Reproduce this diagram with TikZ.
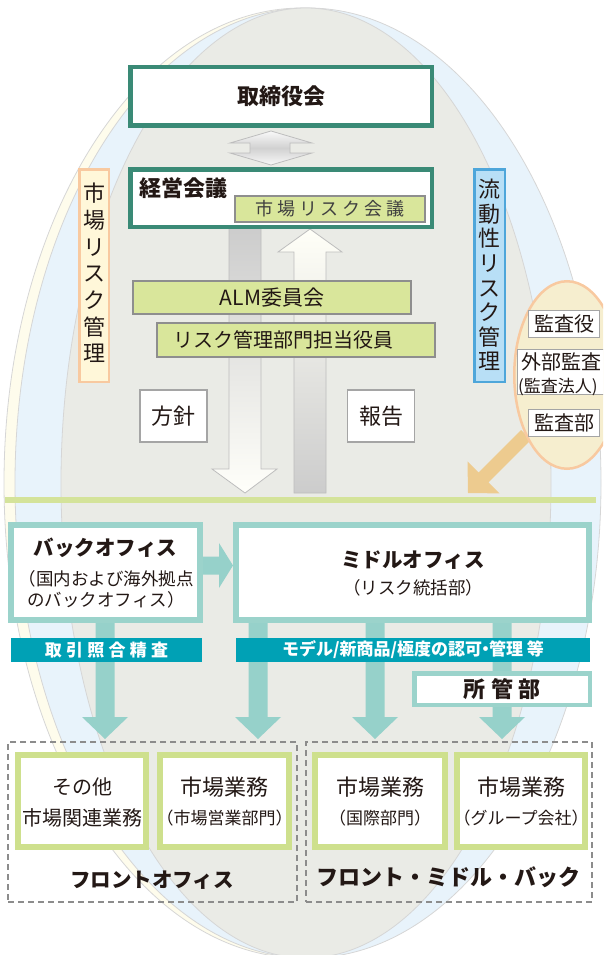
\documentclass[tikz,border=0pt]{standalone}
\usepackage{fontspec}
\setmainfont{Noto Sans CJK JP}
\usetikzlibrary{shapes.geometric}
\definecolor{board}{HTML}{3A8A76}
\definecolor{ink}{HTML}{231815}
\definecolor{lime}{HTML}{D9E69B}
\definecolor{limeline}{HTML}{D4E39A}
\definecolor{limeborder}{HTML}{8E8E8E}
\definecolor{boxgray}{HTML}{A5A5A5}
\definecolor{tealbd}{HTML}{9BD3CB}
\definecolor{tealarr}{HTML}{96D1CA}
\definecolor{barblue}{HTML}{00A1B5}
\definecolor{frontgreen}{HTML}{CEE08D}
\definecolor{ellgray}{HTML}{EAEBE6}
\definecolor{ellyel}{HTML}{FEFCEC}
\definecolor{ellblue}{HTML}{E8F3FB}
\definecolor{ellline}{HTML}{D6D6D6}
\definecolor{peach}{HTML}{F8C9A0}
\definecolor{auditfill}{HTML}{F6EECF}
\definecolor{liqfill}{HTML}{B8DFF6}
\definecolor{liqline}{HTML}{4EA6DA}
\definecolor{mktfill}{HTML}{FFF7D9}
\definecolor{orangearr}{HTML}{EDCB8F}
\definecolor{arrline}{HTML}{BDBDBD}
\definecolor{dashgray}{HTML}{8C8C8C}
\newcommand\jfs[2]{\fontsize{#1pt}{#2pt}\selectfont}
\newcommand\tealdown[1]{\fill[tealarr] ({#1-9.5},623) -- ({#1+9.5},623) -- ({#1+9.5},717) -- ({#1+23},717) -- (#1,739) -- ({#1-23},717) -- ({#1-9.5},717) -- cycle;}
\begin{document}
\begin{tikzpicture}[x=1pt,y=-1pt,
  every node/.style={inner sep=0pt, outer sep=0pt, text=ink},
  boardbox/.style={draw=board, line width=4.5pt, fill=white},
  limebox/.style={draw=limeborder, line width=1.1pt, fill=lime},
  whitebox/.style={draw=boxgray, line width=1.2pt, fill=white},
  tealbox/.style={draw=tealbd, line width=6pt, fill=white},
  frontbox/.style={draw=frontgreen, line width=6pt, fill=white},
  barbox/.style={fill=barblue, text=white},
  dashbox/.style={draw=dashgray, line width=1.1pt, dash pattern=on 6pt off 4pt},
  blockarrow/.style={draw=arrline, line width=0.8pt}]
\useasboundingbox (0,0) rectangle (603,955);
\clip (0,0) rectangle (603,955);
% background ellipses
\draw[ellline, line width=0.8pt, fill=ellyel] (302,483) ellipse [x radius=298pt, y radius=475pt];
\draw[ellline, line width=0.8pt, fill=ellblue] (308,483) ellipse [x radius=293pt, y radius=475pt];
\draw[ellline, line width=0.8pt, fill=ellgray] (306,483) ellipse [x radius=245pt, y radius=475pt];
% separator line
\draw[limeline, line width=5.5pt] (5,500) -- (596,500);
% board
\node[boardbox, minimum width=301.5pt, minimum height=58.5pt, font=\bfseries\jfs{22}{26}] (board) at (281,96.5) {取締役会};
% double arrow
\draw[blockarrow, top color=white!95!gray, bottom color=white!95!gray, middle color=black!18] (271,131) -- (312,143) -- (290,143) -- (290,153) -- (312,153) -- (271,165) -- (230,153) -- (250,153) -- (250,143) -- (230,143) -- cycle;
% policy / report arrows
\draw[blockarrow, top color=black!20, bottom color=white!98!yellow] (229,226) -- (261,226) -- (261,469) -- (277,469) -- (245,493) -- (212,469) -- (229,469) -- cycle;
\draw[blockarrow, top color=white!97!yellow, bottom color=black!20] (294,493) -- (326,493) -- (326,252) -- (342,252) -- (310,229) -- (278,252) -- (294,252) -- cycle;
% management meeting
\node[boardbox, minimum width=301.5pt, minimum height=57.5pt] (mgmt) at (281,198) {};
\node[font=\bfseries\jfs{22}{26}, anchor=west] (mgmtlabel) at (139,188) {経営会議};
\node[limebox, minimum width=190pt, minimum height=26pt, font=\jfs{18}{20}\addfontfeature{LetterSpace=22}, text=black!75] (mrc) at (330,209) {市場リスク会議};
\node[limebox, minimum width=278pt, minimum height=33pt, font=\jfs{21}{24}] (alm) at (272,297.5) {ALM委員会};
\node[limebox, minimum width=278pt, minimum height=34pt] (rmo) at (296,340) {};
\node[font=\jfs{20}{24}] (rmolabel) at (283,340) {リスク管理部門担当役員};
\node[whitebox, minimum width=67pt, minimum height=52pt, font=\jfs{22}{24}] (policy) at (173.5,416) {方針};
\node[whitebox, minimum width=67pt, minimum height=52pt, font=\jfs{22}{24}] (report) at (381,416) {報告};
% side labels
\node[draw=peach, line width=2.5pt, fill=mktfill, minimum width=29.5pt, minimum height=212.5pt] (mktbox) at (94,275.5) {};
\node[align=center, font=\jfs{22}{26.7}] (mkttext) at (94,273) {市\\場\\リ\\ス\\ク\\管\\理};
\node[draw=liqline, line width=2.5pt, fill=liqfill, minimum width=30.5pt, minimum height=212.5pt] (liqbox) at (489.5,275.5) {};
\node[align=center, font=\jfs{22}{24.6}] (liqtext) at (489.5,275) {流\\動\\性\\リ\\ス\\ク\\管\\理};
% audit
\fill[orangearr] (521.1,430.0) -- (478.6,472.4) -- (467.5,461.3) -- (468,493) -- (499.6,493.4) -- (488.5,482.3) -- (530.9,439.9) -- cycle;
\node[ellipse, draw=peach, line width=2.5pt, fill=auditfill, minimum width=105.5pt, minimum height=187.5pt] (audit) at (567,375) {};
\node[whitebox, minimum width=70.8pt, minimum height=26.8pt, font=\jfs{20}{22}] (kansayaku) at (564,324) {監査役};
\node[whitebox, minimum width=100pt, minimum height=44.8pt] (gaibu) at (567.6,372) {};
\node[anchor=west, font=\jfs{20}{22}] (gaibu1) at (521,362) {外部監査};
\node[anchor=west, font=\jfs{17}{19}] (gaibu2) at (518,387) {(監査法人)};
\node[whitebox, minimum width=70.8pt, minimum height=26.8pt, font=\jfs{20}{22}] (kansabu) at (564,423) {監査部};
% lower section
\tealdown{105}
\tealdown{258}
\tealdown{375}
\tealdown{502}
\node[tealbox, minimum width=189pt, minimum height=95pt] (back) at (105.5,572.5) {};
\node[font=\bfseries\jfs{20.5}{24}] (backtitle) at (105.5,548) {バックオフィス};
\node[align=center, font=\jfs{17.5}{21}] (backsub) at (106,589) {（国内および海外拠点\\のバックオフィス）};
\node[tealbox, minimum width=353pt, minimum height=95pt] (middle) at (412.5,572.5) {};
\node[font=\bfseries\jfs{20.5}{24}] (midtitle) at (413,560) {ミドルオフィス};
\node[font=\jfs{17.5}{21}] (midsub) at (413,588) {（リスク統括部）};
\fill[tealarr] (203,556.5) -- (219,556.5) -- (219,543) -- (233,565.5) -- (219,588) -- (219,574.5) -- (203,574.5) -- cycle;
\node[barbox, minimum width=191pt, minimum height=24pt, font=\bfseries\jfs{17}{20}\addfontfeature{LetterSpace=25}] (check) at (106.5,650) {取引照合精査};
\node[barbox, minimum width=354pt, minimum height=24pt, font=\bfseries\jfs{17}{20}] (approve) at (413,650) {モデル/新商品/極度の認可\kern-0.3em・\kern-0.3em管理 等};
\node[draw=tealbd, line width=4.5pt, fill=white, minimum width=175.5pt, minimum height=31.5pt, font=\bfseries\jfs{22}{24}\addfontfeature{LetterSpace=25}] (dept) at (502,689) {所管部};
% front groups
\node[dashbox, minimum width=289pt, minimum height=160pt] (frontgrp) at (152.5,822) {};
\node[dashbox, minimum width=286pt, minimum height=160pt] (fmbgrp) at (449,822) {};
\node[frontbox, minimum width=128pt, minimum height=92pt] (other) at (82,801) {};
\node[align=center, font=\jfs{20}{31}] (othertxt) at (82,802.5) {その他\\市場関連業務};
\node[frontbox, minimum width=129pt, minimum height=92pt] (sales) at (224.5,801) {};
\node[font=\jfs{22}{24}] (salest) at (224.5,787) {市場業務};
\node[font=\jfs{17}{20}] (saless) at (224.5,818) {（市場営業部門）};
\node[frontbox, minimum width=130pt, minimum height=92pt] (intl) at (380,801) {};
\node[font=\jfs{22}{24}] (intlt) at (380,787) {市場業務};
\node[font=\jfs{17}{20}] (intls) at (380,818) {（国際部門）};
\node[frontbox, minimum width=128pt, minimum height=92pt] (group) at (521,801) {};
\node[font=\jfs{22}{24}] (groupt) at (521,787) {市場業務};
\node[font=\jfs{17}{20}] (groups) at (521,818) {（グループ会社）};
\node[font=\bfseries\jfs{20.5}{24}] (frontlabel) at (152,880) {フロントオフィス};
\node[font=\bfseries\jfs{22}{24}] (fmblabel) at (448,877) {フロント・ミドル・バック};
\end{tikzpicture}
\end{document}
